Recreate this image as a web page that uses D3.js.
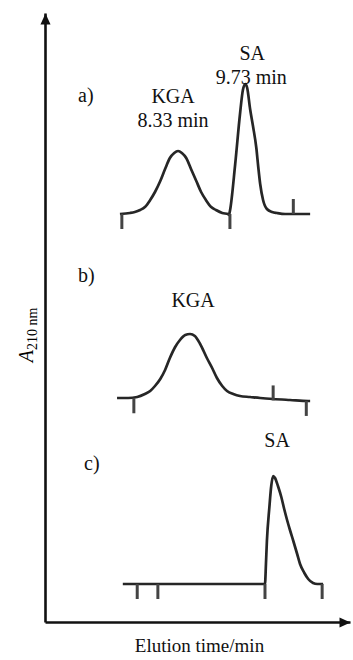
<!DOCTYPE html>
<html>
<head>
<meta charset="utf-8">
<script src="https://cdn.jsdelivr.net/npm/d3@7"></script>
<style>
body { margin: 0; background: #fff; }
text { font-family: "Liberation Serif", "Times New Roman", serif; fill: #111; }
</style>
</head>
<body>
<div id="chart"></div>
<script>
const width = 353, height = 660;

// trace a) : KGA + SA mixture
const timeA = [7.12, 7.33, 7.43, 7.54, 7.64, 7.75, 7.85, 7.96, 8.06, 8.16, 8.25, 8.33, 8.41, 8.50, 8.60, 8.71,
  8.81, 8.91, 9.02, 9.12, 9.25, 9.37, 9.39, 9.41, 9.52, 9.62, 9.68, 9.73, 9.77, 9.83, 9.89, 9.96, 10.00,
  10.04, 10.10, 10.18, 10.29, 10.39, 10.56, 11.08];
const absA = [0, 0.01, 0.02, 0.04, 0.07, 0.14, 0.22, 0.33, 0.45, 0.56, 0.61, 0.63, 0.61, 0.56, 0.45, 0.33,
  0.22, 0.14, 0.07, 0.04, 0.01, 0, -0.01, 0.03, 0.50, 1.00, 1.24, 1.30, 1.26, 1.05, 0.88, 0.66, 0.47,
  0.30, 0.14, 0.05, 0.02, 0.01, 0, 0];
// trace b) : KGA standard
const timeB = [7.06, 7.29, 7.48, 7.64, 7.75, 7.85, 7.96, 8.06, 8.16, 8.27, 8.37, 8.48, 8.58, 8.68, 8.79,
  8.93, 9.04, 9.14, 9.25, 9.35, 9.48, 9.62, 9.83, 10.04, 10.31, 10.66, 11.04, 11.08];
const absB = [0, 0, 0.01, 0.04, 0.07, 0.12, 0.19, 0.28, 0.40, 0.51, 0.58, 0.63, 0.64, 0.62, 0.54,
  0.40, 0.30, 0.20, 0.12, 0.07, 0.04, 0.02, 0.01, 0, -0.01, -0.02, -0.03, -0.03];
// trace c) : SA standard
const timeC = [7.18, 10.14, 10.16, 10.18, 10.23, 10.27, 10.31, 10.35, 10.41, 10.48, 10.54, 10.60, 10.66,
  10.73, 10.81, 10.87, 10.96, 11.04, 11.14, 11.23, 11.35];
const absC = [0, 0, 0.20, 0.43, 0.76, 0.98, 1.08, 1.06, 0.98, 0.87, 0.75, 0.64, 0.54,
  0.43, 0.30, 0.20, 0.11, 0.05, 0.01, 0, 0];

// event marks on each trace (time, 1 = up, -1 = down)
const marksA = [[7.16, -1], [9.41, -1], [10.73, 1]];
const marksB = [[7.41, -1], [10.31, 1], [11.00, -1]];
const marksC = [[7.48, -1], [7.91, -1], [10.14, -1], [11.33, -1]];

const offsets = [4.08, 2.24, 0.38];
const panelNames = ["a)", "b)", "c)"];

const traces = [
  {t: timeA, a: absA, marks: marksA, off: offsets[0]},
  {t: timeB, a: absB, marks: marksB, off: offsets[1]},
  {t: timeC, a: absC, marks: marksC, off: offsets[2]}
];

const svg = d3.select("#chart").append("svg")
  .attr("width", width)
  .attr("height", height);

let x = d3.scaleLinear().domain([5.56, 11.91]).range([45, 350]);
let y = d3.scaleLinear().domain([0, 6.09]).range([622, 13]);

// arrow head
svg.append("defs").append("marker")
  .attr("id", "arrow")
  .attr("markerUnits", "userSpaceOnUse")
  .attr("viewBox", "0 0 12 12")
  .attr("refX", 12).attr("refY", 6)
  .attr("markerWidth", 12).attr("markerHeight", 11)
  .attr("orient", "auto")
  .append("path")
  .attr("d", "M0,0.5L12,6L0,11.5Z")
  .attr("fill", "#111");

// axes, no ticks
let yAxis = svg.append("g")
  .attr("transform", `translate(${x.range()[0]},0)`)
  .call(d3.axisLeft(y).tickValues([]).tickSizeOuter(0));
let xAxis = svg.append("g")
  .attr("transform", `translate(0,${y.range()[0]})`)
  .call(d3.axisBottom(x).tickValues([]).tickSizeOuter(0));
svg.selectAll(".domain")
  .attr("stroke", "#111")
  .attr("stroke-width", 2.6)
  .attr("marker-end", "url(#arrow)");

let line = d3.line().curve(d3.curveMonotoneX);

traces.forEach(function(tr) {
  let pts = tr.t.map(function(t, i) { return [x(t), y(tr.off + tr.a[i])]; });
  svg.append("path")
    .attr("d", line(pts))
    .attr("fill", "none")
    .attr("stroke", "#262626")
    .attr("stroke-width", 2.7)
    .attr("stroke-linejoin", "round");

  // little event ticks sitting on the baseline
  let base = d3.scaleLinear().domain(d3.extent(tr.t)).range([tr.a[0], tr.a[tr.a.length - 1]]);
  svg.selectAll(null).data(tr.marks).enter()
    .append("line")
    .attr("x1", function(d) { return x(d[0]); })
    .attr("x2", function(d) { return x(d[0]); })
    .attr("y1", function(d) { return y(tr.off + base(d[0])); })
    .attr("y2", function(d) { return y(tr.off + base(d[0])) - d[1] * 15; })
    .attr("stroke", "#444")
    .attr("stroke-width", 3);
});

// panel letters
let letterPos = [[78, 102], [78, 282], [84, 470]];
svg.selectAll(".panel").data(panelNames).enter()
  .append("text")
  .attr("class", "panel")
  .attr("x", function(d, i) { return letterPos[i][0]; })
  .attr("y", function(d, i) { return letterPos[i][1]; })
  .attr("fill", "#000")
  .style("font-size", "20px")
  .text(function(d) { return d; });

// peak labels
function label(txt, t, yy, dx) {
  svg.append("text")
    .attr("x", x(t) + dx)
    .attr("y", yy)
    .attr("fill", "#000")
    .style("text-anchor", "middle")
    .style("font-size", "20px")
    .text(txt);
}
label("KGA", 8.33, 103, -5);
label("8.33 min", 8.33, 127, -5);
label("SA", 9.73, 60, 7);
label("9.73 min", 9.73, 84, 6);
label("KGA", 8.58, 307, 3);
label("SA", 10.31, 447, 4);

// axis titles
svg.append("text")
  .attr("x", (x.range()[0] + x.range()[1]) / 2 + 2)
  .attr("y", 652)
  .attr("fill", "#000")
  .style("text-anchor", "middle")
  .style("font-size", "19px")
  .text("Elution time/min");

let yLab = svg.append("text")
  .attr("transform", `translate(${33}, ${335}) rotate(-90)`)
  .attr("fill", "#000")
  .style("fill", "#000")
  .style("text-anchor", "middle");
yLab.append("tspan").style("font-style", "italic").style("font-size", "20px").text("A");
yLab.append("tspan").attr("dy", 4).style("font-size", "14px").text("210 nm");
</script>
</body>
</html>
